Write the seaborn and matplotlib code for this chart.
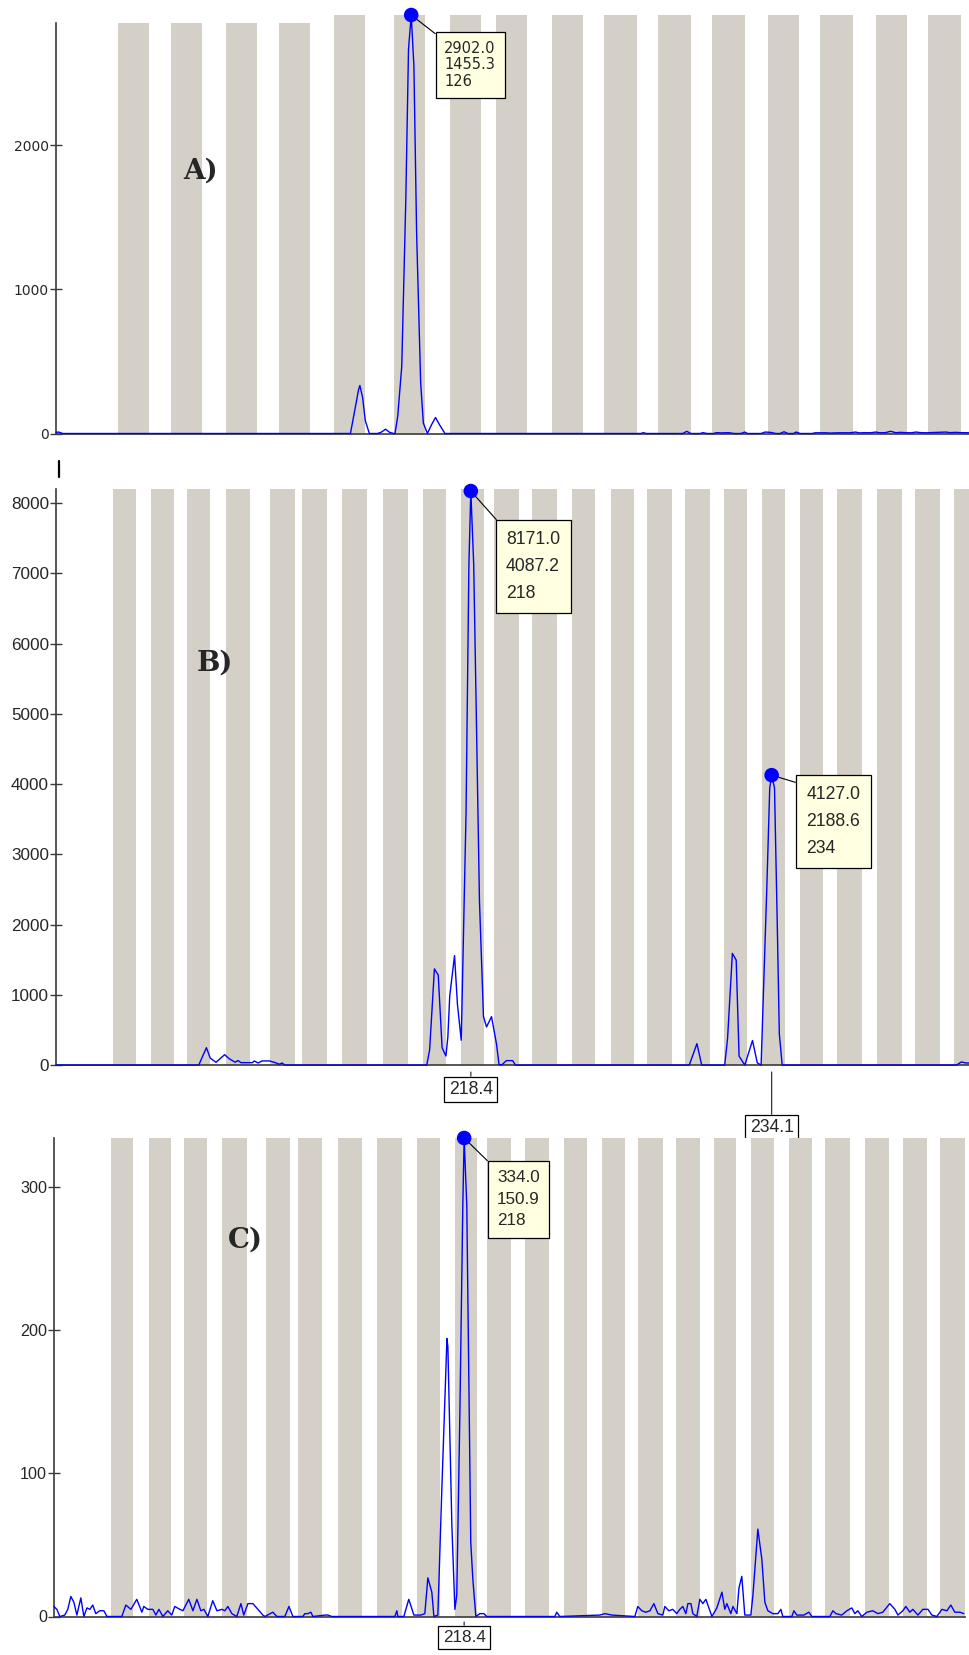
import matplotlib
matplotlib.use('Agg')
import matplotlib.pyplot as plt
import seaborn as sns
from matplotlib import font_manager
from matplotlib.lines import Line2D

# ---- data (sizes in bp, heights in RFU) ----
# panel A
a_x = [99.7, 99.9, 100.2, 121.5, 121.8, 122.1, 122.2, 122.4, 122.6, 122.9, 123.5, 123.8, 124.1, 124.4,
       124.7, 124.8, 125.0, 125.3, 125.6, 125.8, 126.0, 126.2, 126.4, 126.7, 126.9, 127.2, 127.5, 127.8,
       128.1, 128.5, 143.0, 143.2, 143.4, 146.1, 146.4, 146.7, 147.4, 147.6, 147.9, 148.4, 148.6, 149.0,
       149.5, 149.9, 150.4, 150.7, 150.9, 151.9, 152.2, 152.6, 153.0, 153.3, 153.6, 153.9, 154.3, 154.5,
       154.8, 155.7, 155.9, 156.7, 157.0, 157.6, 158.5, 158.9, 159.2, 159.6, 160.0, 160.4, 160.7, 161.1,
       161.5, 161.9, 162.2, 162.6, 163.0, 163.4, 163.7, 164.1, 165.6, 165.9, 166.3, 166.7, 167.3]
a_y = [8, 10, 0, 0, 150, 303, 333, 250, 90, 0, 0, 10, 30, 8,
       0, 0, 118, 465, 1623, 2664, 2902, 2549, 1391, 350, 72, 0, 60, 111,
       60, 0, 0, 6, 0, 0, 15, 0, 0, 6, 0, 0, 6, 4,
       6, 0, 0, 10, 0, 0, 10, 8, 0, 0, 12, 0, 0, 10,
       0, 0, 5, 5, 3, 5, 5, 10, 4, 6, 5, 10, 5, 6,
       15, 5, 8, 6, 5, 10, 6, 5, 10, 6, 8, 6, 5]
a_bin_lo = [104.3, 108.2, 112.3, 116.2, 120.3, 124.7, 128.9, 132.3, 136.4, 140.3, 144.3, 148.3, 152.4, 156.3, 160.4, 164.3]
a_bin_hi = [106.6, 110.5, 114.6, 118.5, 122.6, 127.0, 131.2, 134.6, 138.7, 142.7, 146.7, 150.7, 154.7, 158.7, 162.7, 166.7]
a_bin_top = [2846, 2846, 2846, 2846, 2902, 2902, 2902, 2902, 2902, 2902, 2902, 2902, 2902, 2902, 2902, 2902]
a_peak = (126.0, 2902)
a_peak_text = ['2902.0', '1455.3', '126']
a_yticks = [0, 1000, 2000]

# panel B
b_x = [196.75, 204.2, 204.6, 204.8, 205.1, 205.55, 205.8, 206.1, 206.25, 206.4, 207.0, 207.1, 207.3, 207.5,
       207.9, 208.25, 208.4, 208.55, 208.7, 216.1, 216.25, 216.5, 216.7, 216.9, 217.1, 217.2, 217.3, 217.55,
       217.7, 217.9, 218.15, 218.3, 218.4, 218.55, 218.7, 218.85, 219.06, 219.22, 219.48, 219.74, 219.87,
       220.0, 220.26, 220.58, 220.73, 229.8, 230.2, 230.45, 231.65, 231.8, 232.05, 232.25, 232.4, 232.7,
       233.1, 233.35, 233.55, 233.85, 234.0, 234.1, 234.25, 234.4, 234.5, 234.65, 243.75, 244.0, 244.25, 244.4]
b_y = [0, 0, 248, 100, 40, 148, 89, 41, 65, 35, 35, 59, 30, 59,
       59, 30, 12, 30, 0, 0, 218, 1370, 1281, 248, 130, 396, 986, 1559,
       868, 354, 3584, 7127, 8171, 7127, 4765, 2344, 691, 543, 690, 300, 10,
       0, 64, 64, 0, 0, 305, 0, 0, 382, 1590, 1495, 127, 0,
       350, 32, 0, 2544, 3943, 4127, 3943, 1908, 445, 0, 0, 45, 30, 30]
b_peaks = [(218.4, 8171), (234.1, 4127)]
b_peak_text = [['8171.0', '4087.2', '218'], ['4127.0', '2188.6', '234']]
b_sizes = [218.4, 234.1]
b_yticks = [0, 1000, 2000, 3000, 4000, 5000, 6000, 7000, 8000]

# bins shared by panels B and C
bin_lo = [199.7, 201.7, 203.6, 205.6, 207.9, 209.6, 211.7, 213.8, 215.9, 217.9, 219.6, 221.6,
          223.7, 225.7, 227.6, 229.6, 231.6, 233.6, 235.6, 237.5, 239.6, 241.6, 243.6]
bin_hi = [200.9, 202.9, 204.8, 206.9, 209.2, 210.9, 213.0, 215.1, 217.1, 219.1, 220.9, 222.9,
          224.9, 226.9, 228.9, 230.9, 232.8, 234.8, 236.8, 238.8, 240.9, 242.9, 244.9]

# panel C
c_x = [196.69, 196.85, 197.01, 197.27, 197.43, 197.59, 197.75, 197.91, 198.12, 198.28, 198.44, 198.60,
       198.75, 198.91, 199.12, 199.34, 199.50, 200.29, 200.50, 200.77, 201.08, 201.35, 201.45, 201.66,
       201.93, 202.09, 202.25, 202.46, 202.72, 202.93, 203.09, 203.36, 203.52, 203.83, 204.05, 204.26,
       204.47, 204.63, 204.84, 205.10, 205.32, 205.58, 205.74, 205.90, 206.11, 206.37, 206.59, 206.74,
       206.96, 207.22, 207.49, 207.75, 207.86, 208.28, 208.49, 208.91, 209.13, 209.34, 209.87, 209.97,
       210.13, 210.29, 210.40, 211.03, 211.19, 211.40, 214.73, 214.84, 214.89, 215.21, 215.47, 215.74,
       216.11, 216.32, 216.48, 216.69, 216.80, 217.01, 217.22, 217.49, 217.54, 217.75, 217.91, 218.01,
       218.17, 218.33, 218.40, 218.54, 218.75, 218.86, 219.02, 219.23, 219.44, 219.60, 223.20, 223.30,
       223.46, 225.58, 225.85, 226.22, 227.43, 227.59, 227.80, 228.01, 228.23, 228.44, 228.65, 228.91,
       229.02, 229.23, 229.44, 229.65, 229.81, 229.97, 230.13, 230.24, 230.40, 230.50, 230.71, 230.87,
       231.03, 231.19, 231.51, 231.77, 232.04, 232.19, 232.30, 232.51, 232.62, 232.83, 232.94, 233.09,
       233.25, 233.57, 233.68, 233.94, 234.15, 234.31, 234.47, 234.73, 235.00, 235.16, 235.26, 235.74,
       235.85, 236.00, 236.22, 236.37, 236.64, 236.80, 237.75, 237.91, 238.07, 238.38, 238.65, 238.91,
       239.07, 239.23, 239.44, 239.71, 240.02, 240.29, 240.55, 240.92, 241.19, 241.35, 241.61, 241.77,
       241.98, 242.14, 242.41, 242.67, 242.94, 243.15, 243.41, 243.68, 243.94, 244.15, 244.36, 244.63,
       244.84]
c_y = [7, 5, 0, 1, 5, 14, 10, 1, 13, 0, 6, 5,
       8, 2, 4, 4, 0, 0, 8, 5, 12, 3, 7, 5,
       5, 1, 5, 0, 4, 1, 7, 5, 4, 12, 4, 12,
       4, 5, 0, 11, 4, 5, 4, 7, 2, 0, 9, 1,
       9, 9, 5, 1, 0, 3, 0, 0, 7, 0, 0, 2,
       2, 3, 0, 1, 1, 0, 0, 4, 0, 0, 12, 1,
       1, 2, 27, 17, 0, 1, 89, 194, 188, 64, 5, 15,
       138, 287, 334, 287, 52, 26, 0, 2, 2, 0, 0, 3,
       0, 1, 2, 1, 0, 7, 4, 3, 4, 9, 2, 1,
       7, 4, 5, 2, 5, 7, 2, 9, 9, 2, 0, 12,
       9, 12, 0, 6, 17, 5, 9, 2, 7, 2, 20, 28,
       1, 1, 15, 61, 40, 10, 4, 2, 2, 5, 0, 0,
       4, 1, 1, 1, 3, 0, 0, 4, 2, 1, 4, 6,
       2, 4, 0, 3, 4, 2, 3, 9, 5, 1, 4, 7,
       3, 5, 1, 5, 5, 1, 0, 5, 4, 8, 3, 3,
       2]
c_peak = (218.4, 334)
c_peak_text = ['334.0', '150.9', '218']
c_sizes = [218.4]
c_yticks = [0, 100, 200, 300]

# ---- style ----
sns.set_style('white')
plt.rcParams['font.family'] = ['DejaVu Sans']

# panels B and C were captured vertically stretched -> narrow face gives the tall look
_names = {f.name for f in font_manager.fontManager.ttflist}
if 'Liberation Sans Narrow' in _names:
    NARROW, NS = 'Liberation Sans Narrow', 1.0
else:
    NARROW, NS = 'Liberation Sans', 0.82

BIN_COLOR = '#D4D0C8'
TRACE = '#0000FF'
BOX_FC = '#FFFFE1'

W, H = 969, 1655
fig = plt.figure(figsize=(W / 100, H / 100), dpi=100)


def make_axes(left_px, right_px, bottom_px, top_px):
    return fig.add_axes([left_px / W, 1 - bottom_px / H, (right_px - left_px) / W, (bottom_px - top_px) / H])


def style_axes(ax, yticks, fs, family):
    for s in ['top', 'right']:
        ax.spines[s].set_visible(False)
    for s in ['left', 'bottom']:
        ax.spines[s].set_color('#3a3a3a')
        ax.spines[s].set_linewidth(1.2)
    ax.set_xticks([])
    ax.set_yticks(yticks, labels=[str(v) for v in yticks], fontsize=fs, family=family)
    ax.tick_params(axis='y', direction='inout', length=8, width=1, color='#3a3a3a', pad=1, left=True)
    ax.set_xlabel('')
    ax.set_ylabel('')


def draw_trace(ax, x, y):
    sns.lineplot(x=x, y=y, ax=ax, color=TRACE, lw=1, estimator=None, sort=False,
                 clip_on=False, zorder=4, legend=False)


def peak_box(ax, pos, lines, offset, fs, ls, family, pad):
    sns.scatterplot(x=[pos[0]], y=[pos[1]], ax=ax, s=110, color=TRACE, edgecolor='none',
                    zorder=7, clip_on=False, legend=False)
    ax.annotate('\n'.join(lines), xy=pos, xytext=offset, textcoords='offset points',
                ha='left', va='top', fontsize=fs, linespacing=ls, family=family, zorder=6,
                bbox=dict(boxstyle=f'square,pad={pad}', fc=BOX_FC, ec='black', lw=0.9),
                arrowprops=dict(arrowstyle='-', color='black', lw=0.8, relpos=(0, 1),
                                shrinkA=0, shrinkB=0),
                annotation_clip=False)


def size_box(ax, x, drop, gap, fs, family):
    ax.annotate(f'{x}', xy=(x, 0), xycoords=('data', 'axes fraction'), xytext=(0, -drop),
                textcoords='offset points', ha='center', va='top', fontsize=fs, family=family,
                bbox=dict(boxstyle='square,pad=0.25', fc='white', ec='black', lw=0.9),
                arrowprops=dict(arrowstyle='-', color='#333333', lw=0.9, relpos=(0.5, 1),
                                shrinkA=0, shrinkB=gap),
                annotation_clip=False)


# ---- panel A ----
ax_a = make_axes(56, 969, 433.5, 15)
ax_a.bar(a_bin_lo, a_bin_top, width=[h - l for l, h in zip(a_bin_lo, a_bin_hi)],
         align='edge', color=BIN_COLOR, lw=0, zorder=1)
draw_trace(ax_a, a_x, a_y)
ax_a.set_xlim(99.7, 167.3)
ax_a.set_ylim(0, 2902)
style_axes(ax_a, a_yticks, 10, 'DejaVu Sans')
ax_a.spines['left'].set_bounds(0, 2846)
peak_box(ax_a, a_peak, a_peak_text, (23.8, -18.5), 10.5, 1.15, 'DejaVu Sans', 0.6)
ax_a.text(0.158, 0.627, 'A)', transform=ax_a.transAxes, ha='center', va='center',
          fontsize=20, fontweight='bold', family='DejaVu Serif')

# ---- panel B ----
ax_b = make_axes(56, 969, 1065.1, 489)
ax_b.bar(bin_lo, [8200] * len(bin_lo), width=[h - l for l, h in zip(bin_lo, bin_hi)],
         align='edge', color=BIN_COLOR, lw=0, zorder=1)
draw_trace(ax_b, b_x, b_y)
ax_b.set_xlim(196.75, 244.4)
ax_b.set_ylim(0, 8200)
style_axes(ax_b, b_yticks, 15 * NS, NARROW)
peak_box(ax_b, b_peaks[0], b_peak_text[0], (25.4, -28.5), 15.5 * NS, 1.79, NARROW, 0.6)
peak_box(ax_b, b_peaks[1], b_peak_text[1], (25.1, -7.6), 15.5 * NS, 1.79, NARROW, 0.6)
size_box(ax_b, b_sizes[0], 11.5, 5, 15.5 * NS, NARROW)
size_box(ax_b, b_sizes[1], 38.9, 5, 15.5 * NS, NARROW)
ax_b.text(0.174, 0.698, 'B)', transform=ax_b.transAxes, ha='center', va='center',
          fontsize=20, fontweight='bold', family='DejaVu Serif')

# ---- panel C ----
ax_c = make_axes(54, 965, 1616.5, 1138)
ax_c.bar(bin_lo, [334] * len(bin_lo), width=[h - l for l, h in zip(bin_lo, bin_hi)],
         align='edge', color=BIN_COLOR, lw=0, zorder=1)
draw_trace(ax_c, c_x, c_y)
ax_c.set_xlim(196.7, 244.9)
ax_c.set_ylim(0, 334)
style_axes(ax_c, c_yticks, 14.2 * NS, NARROW)
peak_box(ax_c, c_peak, c_peak_text, (23.8, -23.3), 15 * NS, 1.54, NARROW, 0.55)
size_box(ax_c, c_sizes[0], 9.7, 4, 15 * NS, NARROW)
ax_c.text(0.210, 0.786, 'C)', transform=ax_c.transAxes, ha='center', va='center',
          fontsize=20, fontweight='bold', family='DejaVu Serif')

# small cursor mark above panel B's axis
fig.add_artist(Line2D([58.5 / W, 58.5 / W], [1 - 461 / H, 1 - 477 / H], color='black', lw=1.6))

fig.savefig('out.png', dpi=100, facecolor='white')
